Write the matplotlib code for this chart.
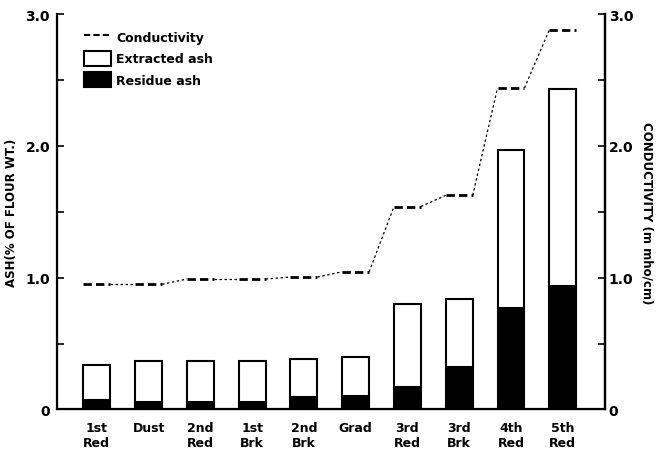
import matplotlib
matplotlib.use("Agg")
import matplotlib.pyplot as plt
import numpy as np
from matplotlib.lines import Line2D
from matplotlib.patches import Patch

categories = ["1st\nRed", "Dust", "2nd\nRed", "1st\nBrk", "2nd\nBrk", "Grad",
              "3rd\nRed", "3rd\nBrk", "4th\nRed", "5th\nRed"]
total_ash = [0.34, 0.37, 0.37, 0.37, 0.38, 0.40, 0.80, 0.84, 1.97, 2.43]
residue_ash = [0.07, 0.055, 0.055, 0.055, 0.095, 0.10, 0.17, 0.325, 0.77, 0.935]
conductivity = [0.95, 0.95, 0.99, 0.99, 1.005, 1.045, 1.54, 1.625, 2.44, 2.88]

extracted_ash = [t - r for t, r in zip(total_ash, residue_ash)]

plt.rcParams['font.family'] = ['DejaVu Sans']
plt.rcParams['font.weight'] = 'bold'

fig = plt.figure(figsize=(6.58, 4.56), dpi=100)
ax = fig.add_axes([0.0866, 0.0998, 0.8324, 0.867])

x = np.arange(len(categories))
w = 0.52
ax.bar(x, residue_ash, width=w, color='black', edgecolor='black', linewidth=1.5, zorder=2)
ax.bar(x, extracted_ash, width=w, bottom=residue_ash, color='white',
       edgecolor='black', linewidth=1.5, zorder=2)

# conductivity step-like line
for i, c in enumerate(conductivity):
    ax.plot([x[i] - w / 2, x[i] + w / 2], [c, c], color='black', lw=2.0,
            linestyle=(0, (3, 1.5)), zorder=3)
    if i < len(conductivity) - 1:
        ax.plot([x[i] + w / 2, x[i + 1] - w / 2], [c, conductivity[i + 1]],
                color='black', lw=0.9, linestyle=(0, (2, 2)), zorder=3)

ax.set_xlim(-0.77, 9.81)
ax.set_ylim(0, 3.0)
ax.spines['top'].set_visible(False)
for s in ['left', 'right', 'bottom']:
    ax.spines[s].set_linewidth(1.6)

yt = [0, 0.5, 1.0, 1.5, 2.0, 2.5, 3.0]
ytl = ['0', '', '1.0', '', '2.0', '', '3.0']
ax.set_yticks(yt)
ax.set_yticklabels(ytl, fontsize=10, fontweight='bold')
ax.tick_params(axis='y', direction='in', length=5, width=1.2, pad=5)
ax.set_xticks(x)
ax.set_xticklabels(categories, fontsize=9, fontweight='bold', linespacing=1.25)
ax.tick_params(axis='x', length=0, pad=8)

ax.set_ylabel('ASH(% OF FLOUR WT.)', fontsize=8.5, fontweight='bold')
ax.yaxis.set_label_coords(-0.071, 0.5)

ax2 = ax.twinx()
ax2.set_ylim(0, 3.0)
ax2.set_yticks(yt)
ax2.set_yticklabels(ytl, fontsize=10, fontweight='bold')
ax2.tick_params(axis='y', direction='in', length=5, width=1.2, pad=3)
ax2.spines['top'].set_visible(False)
ax2.spines['right'].set_linewidth(1.6)
ax2.set_ylabel('CONDUCTIVITY (m mho/cm)', fontsize=8.5, fontweight='bold',
               rotation=-90, va='center')
ax2.yaxis.set_label_coords(1.078, 0.50)

handles = [
    Line2D([0], [0], color='black', lw=1.5, linestyle=(0, (3, 1.5))),
    Patch(facecolor='white', edgecolor='black', linewidth=1.5),
    Patch(facecolor='black', edgecolor='black', linewidth=1.5),
]
labels = ['Conductivity', 'Extracted ash', 'Residue ash']
leg = ax.legend(handles, labels, loc='upper left', bbox_to_anchor=(0.04, 0.975),
                frameon=False, fontsize=9, handlelength=2.2, handleheight=1.5,
                handletextpad=0.4, labelspacing=0.5, borderaxespad=0)
for t in leg.get_texts():
    t.set_fontweight('bold')

fig.savefig('out.png', dpi=100)
